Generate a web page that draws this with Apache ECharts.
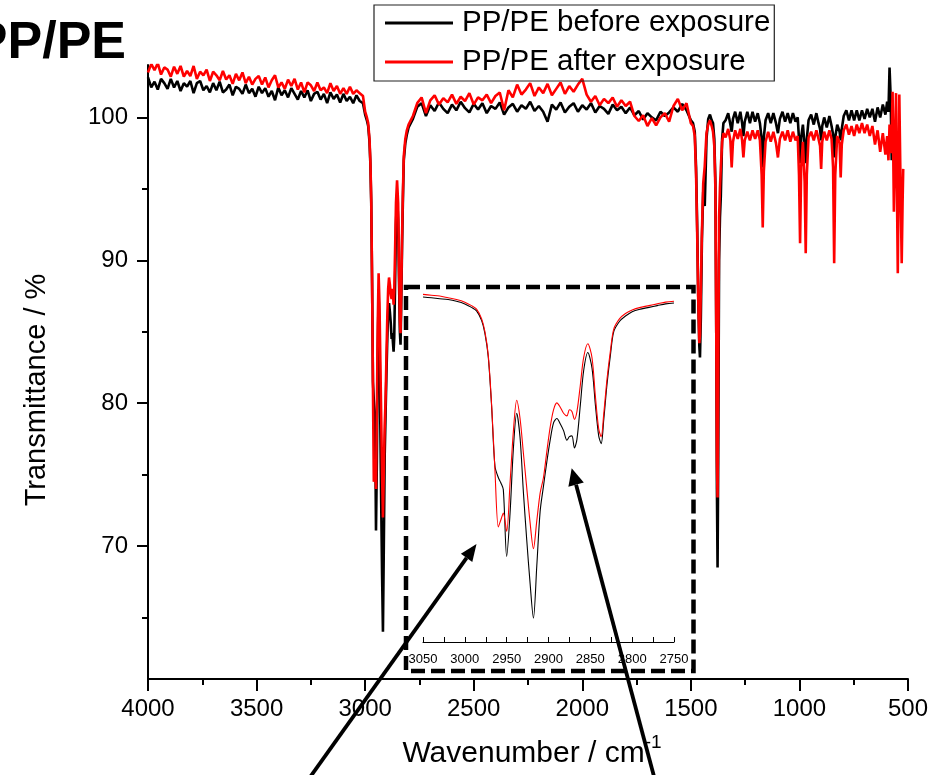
<!DOCTYPE html>
<html>
<head>
<meta charset="utf-8">
<script src="https://cdn.jsdelivr.net/npm/echarts@6/dist/echarts.min.js"></script>
<style>
html,body{margin:0;padding:0;background:#fff;}
#chart{width:940px;height:775px;}
</style>
</head>
<body>
<div id="chart"></div>
<script>
// ---------------- DATA ----------------
const seriesNames = ['PP/PE before exposure', 'PP/PE after exposure'];
const xTicks = [4000, 3500, 3000, 2500, 2000, 1500, 1000, 500];
const yTickLabels = [70, 80, 90, 100];
const yMinorTicks = [65, 75, 85, 95];
const insetTicks = [3050, 3000, 2950, 2900, 2850, 2800, 2750];

// 4000 - 3010 cm-1 (noisy baseline)
const wnHigh = [
  4000,3985,3970,3955,3940,3925,3910,3895,3880,3865,
  3850,3835,3820,3805,3790,3775,3760,3745,3730,3715,
  3700,3685,3670,3655,3640,3625,3610,3595,3580,3565,
  3550,3535,3520,3505,3490,3475,3460,3445,3430,3415,
  3400,3385,3370,3355,3340,3325,3310,3295,3280,3265,
  3250,3235,3220,3205,3190,3175,3160,3145,3130,3115,
  3100,3085,3070,3055,3040,3025,3010];
const beforeHigh = [
  102.8,102.1,102.5,101.95,102.7,102.4,102.0,102.7,102.1,102.55,
  101.85,102.4,102.15,102.55,101.7,102.4,102.55,101.9,102.2,101.75,
  102.4,101.9,102.5,101.75,101.95,102.3,101.55,102.15,102.0,101.65,
  102.3,101.7,102.0,101.45,102.15,101.7,102.05,101.45,101.85,101.2,
  102.1,101.55,101.9,101.4,102.05,101.65,101.25,101.85,101.4,101.9,
  101.15,101.65,101.8,101.25,101.65,101.0,101.75,101.3,101.6,101.05,
  101.65,101.15,101.45,101.0,101.55,101.15,101.0];
const afterHigh = [
  103.15,103.75,103.3,103.8,103.0,103.5,103.35,102.85,103.55,103.05,
  103.6,102.85,103.25,102.9,103.6,102.7,103.2,102.95,103.35,102.55,
  103.2,102.95,102.6,103.25,102.65,102.95,102.35,103.05,102.6,103.15,
  102.4,102.85,102.3,102.7,102.9,102.3,102.8,102.1,102.6,102.95,
  102.1,102.45,102.0,102.65,102.2,102.7,101.95,102.45,101.75,102.45,
  102.25,101.85,102.45,101.9,102.1,101.7,102.4,101.85,102.2,101.65,
  102.05,101.65,102.15,101.65,101.9,101.7,101.5];

// C-H stretching region 3050 - 2750 cm-1 (also used by the inset)
const wnCH = [
  3050,3040,3030,3020,3010,3000,2992,2986,2980,2976,
  2972,2968,2964,2960,2957,2954,2950,2946,2942,2938,
  2934,2930,2926,2922,2918,2914,2910,2906,2902,2898,
  2894,2890,2886,2882,2878,2875,2872,2869,2866,2862,
  2858,2853,2848,2844,2840,2837,2834,2830,2826,2822,
  2815,2808,2800,2790,2780,2770,2760,2750];
const beforeCH = [
  101.0,100.9,100.8,100.7,100.5,100.2,99.8,99.4,98.3,96.8,
  94.1,88.4,81.5,80.2,79.6,78.8,71.1,76.0,83.5,87.6,
  84.8,78.5,73.0,68.0,64.0,70.0,76.3,79.2,82.0,84.5,
  86.5,87.0,86.4,85.6,84.5,84.9,85.0,83.6,84.6,88.5,
  92.5,94.6,92.8,88.6,85.0,84.1,86.8,91.0,94.3,97.0,
  98.2,98.8,99.3,99.6,99.8,100.0,100.2,100.3];
const afterCH = [
  101.3,101.2,101.1,100.9,100.7,100.4,100.0,99.6,98.5,97.0,
  94.3,88.6,81.0,74.5,75.3,76.1,74.0,79.5,85.5,89.1,
  87.0,83.0,79.0,75.0,72.0,75.2,78.4,80.2,83.2,86.0,
  88.0,88.8,88.3,87.6,87.3,88.0,87.8,86.9,87.8,90.8,
  94.0,95.6,94.0,89.6,85.8,84.9,87.5,91.6,94.8,97.3,
  98.5,99.1,99.5,99.8,100.0,100.2,100.4,100.5];

// 2780 - 1500 cm-1
const wnMid = [
  2780,2760,2740,2720,2700,2680,2660,2640,2620,2600,
  2580,2560,2540,2520,2500,2480,2460,2440,2420,2400,
  2380,2360,2340,2320,2300,2280,2260,2240,2220,2200,
  2180,2160,2140,2120,2100,2080,2060,2040,2020,2000,
  1980,1960,1940,1920,1900,1880,1860,1840,1820,1800,
  1780,1760,1740,1720,1700,1680,1660,1640,1620,1600,
  1580,1560,1540,1520,1500];
const beforeMid = [
  99.9,100.75,101.0,100.1,100.85,100.45,101.05,100.6,100.3,100.9,
  100.5,101.1,100.65,100.35,100.95,100.55,101.0,100.3,100.8,100.6,
  101.05,100.2,100.7,100.95,100.4,100.85,100.6,101.1,100.45,100.8,
  100.4,99.7,100.9,100.55,101.05,100.35,100.75,101.0,100.4,100.85,
  100.55,101.0,100.35,100.8,100.6,100.25,100.9,100.5,100.75,100.3,
  100.7,100.15,100.45,99.85,100.3,100.0,99.8,100.4,100.1,100.35,
  100.7,100.4,100.95,100.5,99.8];
const afterMid = [
  100.1,101.0,101.4,100.3,101.2,101.55,100.9,101.35,101.05,101.6,
  100.95,101.45,101.15,101.7,100.9,101.4,101.2,101.6,101.0,101.5,
  101.75,100.5,101.9,101.4,102.3,101.6,101.95,102.4,101.5,102.1,
  101.7,102.35,101.55,102.0,102.45,101.65,102.2,101.8,102.3,102.7,
  101.6,101.1,101.5,100.85,101.3,101.0,101.4,100.75,101.2,100.8,
  101.1,100.1,99.75,100.15,99.4,99.95,99.45,100.0,100.3,99.7,
  100.8,101.3,100.5,101.0,99.6];

// CH2 / CH3 bending region 1490 - 1350 cm-1
const wnBend = [
  1490,1482,1476,1471,1466,1461,1458,1454,1449,1443,
  1436,1428,1420,1412,1404,1398,1392,1387,1383,1380,
  1377,1374,1370,1366,1362,1356,1350];
const beforeBend = [
  99.6,99.0,96.5,92.5,87.5,84.0,83.2,86.0,91.5,94.8,
  93.8,98.5,99.9,100.2,99.8,99.6,98.5,95.5,85.0,74.0,
  68.5,76.0,90.0,93.0,94.5,98.5,99.6];
const afterBend = [
  99.4,98.7,96.0,92.0,87.2,84.2,84.8,88.0,92.0,95.4,
  96.6,98.9,99.5,99.8,99.4,99.0,98.0,95.0,85.0,76.0,
  73.4,82.0,93.0,95.1,96.5,98.3,98.9];

// fingerprint region 1340 - 522 cm-1
const wnLow = [
  1340,1328,1318,1312,1306,1296,1284,1272,1264,1258,
  1252,1240,1228,1216,1204,1192,1182,1174,1169,1164,
  1156,1144,1132,1120,1108,1099,1090,1078,1066,1054,
  1042,1030,1018,1008,1002,997,992,984,976,971,
  966,958,946,934,922,912,905,900,895,886,
  874,862,852,845,840,835,826,815,810,805,
  796,784,772,760,748,736,724,712,700,688,
  676,664,652,640,628,616,604,596,590,585,
  580,575,571,565,560,555,551,547,543,540,
  535,529,525,522];
const beforeLow = [
  99.8,100.3,99.5,99.0,99.9,100.4,99.6,100.4,99.6,98.7,
  99.7,100.4,99.6,100.4,99.7,100.3,99.6,98.5,96.5,98.6,
  99.8,100.3,99.6,100.3,99.6,98.9,99.9,100.4,99.7,100.3,
  99.6,100.3,99.7,100.0,98.5,96.8,98.6,99.5,98.0,96.8,
  98.5,99.8,100.2,99.5,100.3,99.6,99.2,98.4,99.4,100.0,
  99.3,100.1,99.4,98.8,97.2,98.6,99.5,99.0,98.4,99.2,
  100.1,100.5,99.8,100.5,99.8,100.5,99.8,100.5,99.9,100.6,
  100.0,100.6,99.7,100.7,100.0,100.9,100.2,101.1,100.4,103.5,
  101.5,97.0,99.5,null,null,null,null,null,null,null,
  null,null,null,null];
const afterLow = [
  98.6,99.2,98.4,96.5,98.3,99.1,98.5,99.2,98.4,97.2,
  98.4,99.0,98.4,99.1,98.5,99.1,98.4,96.0,92.3,96.2,
  98.3,99.0,98.3,99.0,98.2,97.2,98.5,99.0,98.4,99.1,
  98.3,99.0,98.4,98.7,96.0,91.2,96.5,98.3,95.5,90.5,
  96.0,98.6,99.0,98.4,99.1,98.5,98.0,96.4,98.3,99.0,
  98.4,99.1,98.5,96.5,89.8,96.0,98.7,98.2,95.8,98.1,
  99.1,99.5,98.8,99.4,98.7,99.5,98.9,99.6,98.9,99.5,
  98.7,99.4,98.1,99.1,97.6,98.9,97.4,98.7,97.0,99.5,
  97.5,99.0,101.8,93.4,98.0,101.7,95.0,89.1,96.0,101.6,
  96.0,89.8,94.0,96.4];

// ---------------- BUILD ----------------
function pairs(wn, vals) {
  const out = [];
  for (let i = 0; i < wn.length; i++) {
    if (vals[i] !== null && vals[i] !== undefined) out.push([wn[i], vals[i]]);
  }
  return out;
}
function chInMain(wn, vals) {
  return pairs(wn, vals).filter(p => p[0] < 3005 && p[0] > 2785);
}
const beforeMain = [].concat(
  pairs(wnHigh, beforeHigh), chInMain(wnCH, beforeCH), pairs(wnMid, beforeMid),
  pairs(wnBend, beforeBend), pairs(wnLow, beforeLow));
const afterMain = [].concat(
  pairs(wnHigh, afterHigh), chInMain(wnCH, afterCH), pairs(wnMid, afterMid),
  pairs(wnBend, afterBend), pairs(wnLow, afterLow));
const beforeInset = pairs(wnCH, beforeCH);
const afterInset = pairs(wnCH, afterCH);

const FONT = '"Liberation Sans", Arial, Helvetica, sans-serif';
const NARROW = '"Liberation Sans Narrow", "Arial Narrow", "Liberation Sans", sans-serif';
const yMin = 60.7, yMax = 103.67;

const chart = echarts.init(document.getElementById('chart'), null, {renderer: 'canvas'});
chart.setOption({
  animation: false,
  backgroundColor: '#fff',
  textStyle: {fontFamily: FONT},
  legend: {
    data: seriesNames,
    orient: 'vertical',
    left: 374, top: 5,
    itemWidth: 68, itemHeight: 3, itemGap: 9,
    icon: 'rect',
    padding: [3, 4, 4, 11],
    borderColor: '#222', borderWidth: 1.2,
    selectedMode: false,
    textStyle: {fontSize: 29.5, color: '#000', fontFamily: FONT, padding: [0, 0, 0, 4]}
  },
  grid: [
    {left: 148, right: 32, top: 65, bottom: 96, containLabel: false, outerBoundsMode: 'none'},
    {left: 423, width: 251, top: 290, height: 352, containLabel: false, outerBoundsMode: 'none'}
  ],
  xAxis: [
    {
      type: 'value', gridIndex: 0, min: 500, max: 4000, interval: 500, inverse: true,
      axisLine: {show: true, onZero: false, lineStyle: {color: '#000', width: 2}},
      axisTick: {show: true, length: 12, lineStyle: {color: '#000', width: 2}},
      minorTick: {show: true, splitNumber: 2, length: 6, lineStyle: {color: '#000', width: 2}},
      splitLine: {show: false}, minorSplitLine: {show: false},
      axisLabel: {fontSize: 24, color: '#000', margin: 18, fontFamily: FONT,
        formatter: v => (xTicks.indexOf(v) >= 0 ? String(v) : '')},
      name: '{m|Wavenumber / cm}{s|-1}',
      nameLocation: 'middle', nameGap: 54, nameMoveOverlap: false,
      nameTextStyle: {
        padding: [0, 0, 0, 8],
        rich: {
          m: {fontSize: 30, color: '#000', fontFamily: FONT, verticalAlign: 'bottom', lineHeight: 36},
          s: {fontSize: 19, color: '#000', fontFamily: FONT, verticalAlign: 'top', lineHeight: 19}
        }
      }
    },
    {
      type: 'value', gridIndex: 1, min: 2750, max: 3050, interval: 50, inverse: true,
      axisLine: {show: true, onZero: false, lineStyle: {color: '#000', width: 1}},
      axisTick: {show: true, inside: true, length: 5, lineStyle: {color: '#000', width: 1}},
      minorTick: {show: true, splitNumber: 2, length: 5, lineStyle: {color: '#000', width: 1}},
      splitLine: {show: false}, minorSplitLine: {show: false},
      axisLabel: {fontSize: 13, color: '#000', margin: 11, fontFamily: NARROW,
        formatter: v => (insetTicks.indexOf(v) >= 0 ? String(v) : '')}
    }
  ],
  yAxis: [
    {
      type: 'value', gridIndex: 0, min: yMin, max: yMax, position: 'left',
      axisLine: {show: true, onZero: false, lineStyle: {color: '#000', width: 2}},
      axisTick: {show: true, length: 11, customValues: yTickLabels, lineStyle: {color: '#000', width: 2}},
      axisLabel: {fontSize: 24, color: '#000', margin: 20, fontFamily: FONT, customValues: yTickLabels},
      splitLine: {show: false},
      name: 'Transmittance / %', nameLocation: 'middle', nameGap: 97, nameRotate: 90,
      nameMoveOverlap: false,
      nameTextStyle: {fontSize: 29, color: '#000', fontFamily: FONT, padding: [0, 36, 0, 0]}
    },
    {
      type: 'value', gridIndex: 0, min: yMin, max: yMax, position: 'left', offset: 0,
      axisLine: {show: false},
      axisTick: {show: true, length: 6, customValues: yMinorTicks, lineStyle: {color: '#000', width: 2}},
      axisLabel: {show: false},
      splitLine: {show: false}
    },
    {
      type: 'value', gridIndex: 1, min: 61.25, max: 101.8, show: false,
      splitLine: {show: false}
    }
  ],
  series: [
    {name: seriesNames[0], type: 'line', xAxisIndex: 0, yAxisIndex: 0, data: beforeMain,
     showSymbol: false, symbol: 'none', z: 2, clip: true,
     itemStyle: {color: '#000'}, lineStyle: {color: '#000', width: 2.6}},
    {name: seriesNames[1], type: 'line', xAxisIndex: 0, yAxisIndex: 0, data: afterMain,
     showSymbol: false, symbol: 'none', z: 3, clip: true,
     itemStyle: {color: '#ff0000'}, lineStyle: {color: '#ff0000', width: 2.6}},
    {name: 'inset before', type: 'line', xAxisIndex: 1, yAxisIndex: 2, data: beforeInset,
     showSymbol: false, symbol: 'none', z: 4, smooth: 0.3,
     lineStyle: {color: '#000', width: 1.1}},
    {name: 'inset after', type: 'line', xAxisIndex: 1, yAxisIndex: 2, data: afterInset,
     showSymbol: false, symbol: 'none', z: 5, smooth: 0.3,
     lineStyle: {color: '#ff0000', width: 1.1}}
  ],
  graphic: [
    {type: 'text', x: 126, y: 44, z: 10,
     style: {text: 'PP/PE', fill: '#000', fontSize: 52, fontWeight: 'bold', fontFamily: FONT,
             align: 'right', verticalAlign: 'middle', textAlign: 'right', textVerticalAlign: 'middle'}},
    {type: 'rect', z: 10, shape: {x: 406, y: 287, width: 287.5, height: 384},
     style: {fill: 'none', stroke: '#000', lineWidth: 4.5, lineDash: [14, 6]}},
    {type: 'line', z: 11, shape: {x1: 301.6, y1: 789, x2: 466.6, y2: 557.8},
     style: {stroke: '#000', lineWidth: 3.8}},
    {type: 'polygon', z: 11, shape: {points: [[476.5, 544], [472.3, 561.9], [460.9, 553.7]]},
     style: {fill: '#000'}},
    {type: 'line', z: 11, shape: {x1: 660.3, y1: 800, x2: 576.1, y2: 484.7},
     style: {stroke: '#000', lineWidth: 3.8}},
    {type: 'polygon', z: 11, shape: {points: [[571.7, 468.3], [583.8, 482.6], [568.4, 486.8]]},
     style: {fill: '#000'}}
  ]
});
</script>
</body>
</html>
